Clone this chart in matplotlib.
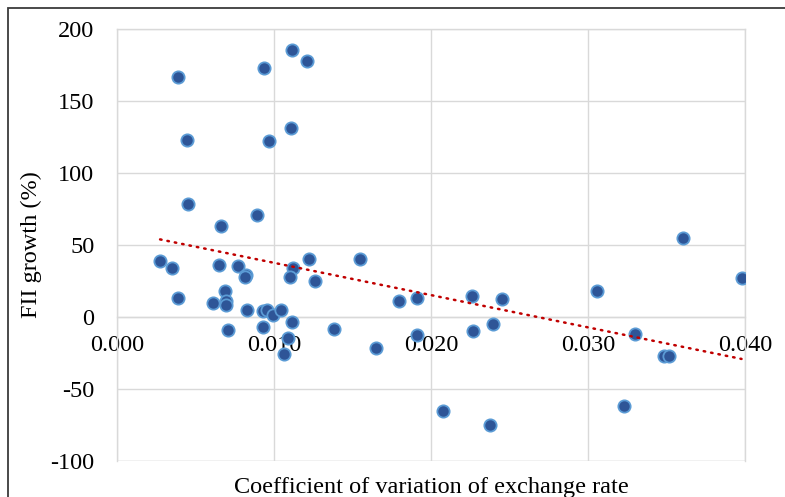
import numpy as np
import matplotlib
matplotlib.use("Agg")
import matplotlib.pyplot as plt
from matplotlib.patches import Rectangle

# coefficient of variation of exchange rate vs FII growth (%)
cv = [0.00389, 0.00938, 0.01117, 0.01208, 0.00446, 0.00970, 0.01110, 0.00452,
      0.00892, 0.00666,
      0.00276, 0.00352, 0.00650, 0.00773, 0.00824, 0.00819, 0.01121, 0.01102,
      0.01221, 0.01259, 0.00690, 0.00390, 0.00613, 0.00696, 0.00696, 0.00828,
      0.00930, 0.00955, 0.00994, 0.01046, 0.01115, 0.00709, 0.00934, 0.01380,
      0.01091, 0.01066,
      0.01550, 0.01798, 0.01908, 0.02261, 0.02452, 0.01647, 0.01908, 0.02265,
      0.02397,
      0.03603, 0.03976, 0.03055, 0.03297, 0.03482, 0.03514,
      0.02074, 0.02376, 0.03227]
fii = [166.4, 172.7, 185.4, 177.8, 123.0, 122.3, 131.3, 78.0,
       70.5, 63.1,
       38.7, 33.6, 35.9, 35.0, 29.0, 27.4, 33.9, 27.6,
       40.4, 24.6, 18.1, 13.0, 9.5, 10.9, 7.9, 4.4,
       3.9, 4.4, 1.1, 4.4, -4.0, -9.3, -7.0, -8.8,
       -15.1, -25.8,
       40.1, 10.9, 13.0, 14.1, 12.3, -21.6, -12.8, -10.2,
       -5.1,
       54.5, 26.9, 17.6, -12.3, -27.4, -27.4,
       -65.5, -75.2, -61.8]

xticks = [0.000, 0.010, 0.020, 0.030, 0.040]
yticks = [-100, -50, 0, 50, 100, 150, 200]

plt.rcParams['font.family'] = ['Liberation Serif', 'DejaVu Serif']
plt.rcParams['axes.unicode_minus'] = False
grid_c = '#d9d9d9'

fig = plt.figure(figsize=(7.85, 4.97), dpi=100)
ax = fig.add_axes([116.7 / 785, 1 - 460.7 / 497, (745.3 - 116.7) / 785, (460.7 - 28.7) / 497])

ax.set_xlim(0, 0.040)
ax.set_ylim(-100, 200)
ax.set_xticks(xticks)
ax.set_yticks(yticks)
ax.set_xticklabels([f"{t:.3f}" for t in xticks])
ax.grid(True, color=grid_c, linewidth=1.0)
ax.set_axisbelow(True)

for s in ['top', 'right', 'left']:
    ax.spines[s].set_color(grid_c)
    ax.spines[s].set_linewidth(1.0)
ax.spines['bottom'].set_position(('data', 0))
ax.spines['bottom'].set_color(grid_c)
ax.spines['bottom'].set_linewidth(1.0)
ax.tick_params(axis='both', length=0, labelsize=17.5, colors='black')
ax.tick_params(axis='y', pad=16)
ax.tick_params(axis='x', pad=13)
# bottom edge of the plot area
ax.axhline(-100, color=grid_c, linewidth=1.0, zorder=0.5)

ax.scatter(cv, fii, s=78, facecolor='#2E5597', edgecolor='#5B9BD5',
           linewidth=1.3, zorder=3)

# linear trendline
k, b = np.polyfit(cv, fii, 1)
tx = np.array([min(cv), max(cv)])
ax.plot(tx, k * tx + b, color='#C00000', linewidth=1.8,
        linestyle=(0, (0.6, 2.4)), dash_capstyle='round', zorder=4)

ax.set_ylabel('FII growth (%)', fontsize=17.5, labelpad=6)
fig.text((116.7 + 745.3) / 2 / 785, 1 - 487 / 497,
         'Coefficient of variation of exchange rate',
         ha='center', va='center', fontsize=17.5)

# outer chart frame (cropped on right and bottom)
fig.patches.append(Rectangle((8 / 785, -0.1), 1.2, (497 - 8) / 497 + 0.1,
                             transform=fig.transFigure, fill=False,
                             edgecolor='#3a3a3a', linewidth=1.3))

fig.savefig('out.png', dpi=100)
